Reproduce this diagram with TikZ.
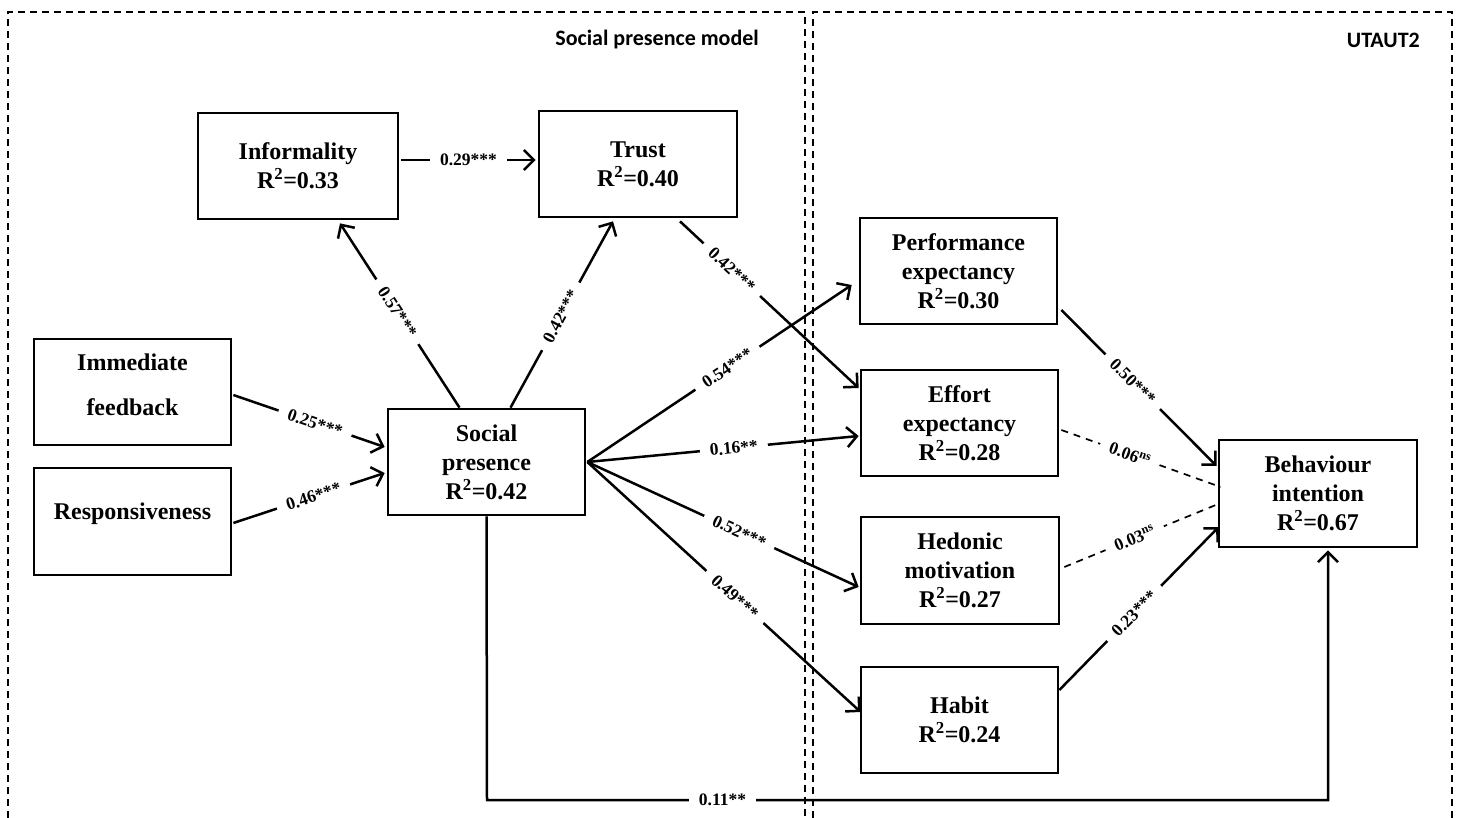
\documentclass[tikz,border=0pt]{standalone}
\usepackage{fontspec}
\setmainfont{Liberation Serif}
\newfontfamily\titlefont{Carlito}
\usetikzlibrary{arrows.meta,calc}
\newcommand{\lift}[2]{\raisebox{#1}[\height][\depth]{#2}}
\tikzset{
  box/.style={draw, line width=2.7pt, fill=white, align=center,
    font=\fontsize{24}{29}\selectfont\bfseries, inner sep=0pt},
  conn/.style={line width=2.5pt, -{Straight Barb[length=10pt,width=20pt]}},
  dconn/.style={line width=1.7pt, dash pattern=on 7pt off 6pt},
  lbl/.style={fill=white, font=\fontsize{17.5}{17.5}\selectfont\bfseries, inner sep=1pt, inner xsep=10pt, sloped},
  frame/.style={line width=1.3pt, dash pattern=on 7pt off 5pt},
  ttl/.style={font=\titlefont\fontsize{22}{22}\selectfont\bfseries, anchor=east, inner sep=0pt}
}
\begin{document}
\begin{tikzpicture}[x=1pt,y=-1pt]
\useasboundingbox (0,0) rectangle (1460,818);
% frames
\draw[frame] (8,818) -- (8,12) -- (805,12) -- (805,818);
\draw[frame] (813,818) -- (813,12) -- (1452,12) -- (1452,818);
\node[ttl] (t1) at (759,40) {Social presence model};
\node[ttl] (t2) at (1420,40) {UTAUT2};

% boxes
\node[box, minimum width=200, minimum height=106] (Inf) at (298,166) {Informality\\R\textsuperscript{2}=0.33};
\node[box, minimum width=198, minimum height=106] (Trust) at (638,164) {Trust\\R\textsuperscript{2}=0.40};
\node[box, minimum width=197, minimum height=106] (IF) at (132.5,392) {\lift{7pt}{Immediate}\\[16pt]\lift{7pt}{feedback}};
\node[box, minimum width=197, minimum height=107] (Resp) at (132.5,521.5) {\lift{8pt}{Responsiveness}};
\node[box, minimum width=197, minimum height=106] (SP) at (486.5,462) {Social\\presence\\R\textsuperscript{2}=0.42};
\node[box, minimum width=197, minimum height=106] (PE) at (958.5,271) {Performance\\expectancy\\R\textsuperscript{2}=0.30};
\node[box, minimum width=197, minimum height=106] (EE) at (959.5,423) {Effort\\expectancy\\R\textsuperscript{2}=0.28};
\node[box, minimum width=198, minimum height=107] (HM) at (960,570.5) {Hedonic\\motivation\\R\textsuperscript{2}=0.27};
\node[box, minimum width=197, minimum height=106] (Hab) at (959.5,720) {Habit\\R\textsuperscript{2}=0.24};
\node[box, minimum width=198, minimum height=107] (BI) at (1318,493.5) {Behaviour\\intention\\R\textsuperscript{2}=0.67};

% connectors
\draw[conn] ([xshift=-27pt]SP.north) -- node[lbl, pos=0.52] {0.57***} ([xshift=42pt,yshift=-3pt]Inf.south);
\draw[conn] ([xshift=24pt]SP.north) -- node[lbl, pos=0.49] {0.42***} ([xshift=-25pt,yshift=-3pt]Trust.south);
\draw[conn] ([xshift=2pt,yshift=6pt]Inf.east) -- node[lbl] {0.29***} ([xshift=-2pt,yshift=4pt]Trust.west);
\draw[conn] ([xshift=42pt,yshift=-3pt]Trust.south) -- node[lbl, pos=0.29] {0.42***} ([xshift=-1pt,yshift=35pt]EE.west);
\draw[conn] ([xshift=1pt]SP.east) -- node[lbl, pos=0.53] {0.54***} ([xshift=-7pt,yshift=-14pt]PE.west);
\draw[conn] ([xshift=1pt]SP.east) -- node[lbl, pos=0.54] {0.16**} ([xshift=-1pt,yshift=-13pt]EE.west);
\draw[conn] ([xshift=1pt]SP.east) -- node[lbl, pos=0.56] {0.52***} ([xshift=-1pt,yshift=-16.5pt]HM.west);
\draw[conn] ([xshift=1pt]SP.east) -- node[lbl, pos=0.54] {0.49***} ([xshift=1pt,yshift=8pt]Hab.west);
\draw[conn] ([xshift=1pt,yshift=-3pt]IF.east) -- node[lbl, pos=0.54] {0.25***} ([xshift=-2pt,yshift=15pt]SP.west);
\draw[conn] ([xshift=1pt,yshift=-1.5pt]Resp.east) -- node[lbl, pos=0.53] {0.46***} ([xshift=-2pt,yshift=-11pt]SP.west);
\draw[conn] ([xshift=3pt,yshift=-39pt]PE.east) -- node[lbl, pos=0.46] {0.50***} ([xshift=-1pt,yshift=27.5pt]BI.west);
\draw[dconn] ([xshift=2pt,yshift=-7pt]EE.east) -- node[lbl, pos=0.43] {0.06\textsuperscript{ns}} ([xshift=3pt,yshift=6.5pt]BI.west);
\draw[dconn] ([xshift=4pt,yshift=3.5pt]HM.east) -- node[lbl, pos=0.45] {0.03\textsuperscript{ns}} ([xshift=3pt,yshift=-9.5pt]BI.west);
\draw[conn] ([yshift=30pt]Hab.east) -- node[lbl, pos=0.47] {0.23***} ([xshift=1pt,yshift=-33.5pt]BI.west);
\coordinate (c1) at (487,800);
\coordinate (c2) at (1328,800);
\draw[conn] (SP.south) -- (c1) -- node[lbl, pos=0.28] {0.11**} (c2) -- ([xshift=10pt,yshift=-2pt]BI.south);
\end{tikzpicture}
\end{document}
